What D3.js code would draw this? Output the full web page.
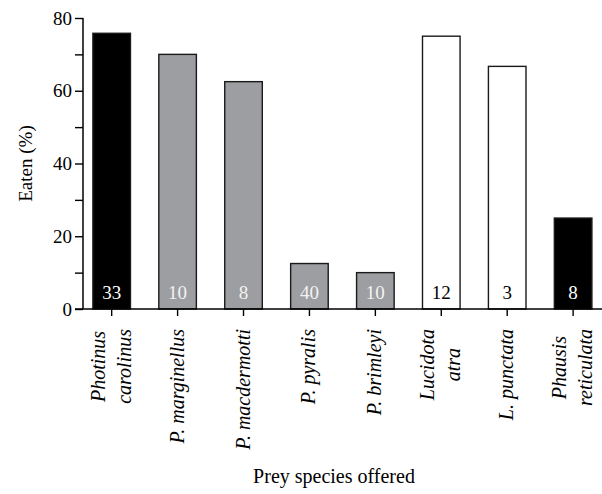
<!DOCTYPE html>
<html>
<head>
<meta charset="utf-8">
<script src="https://cdn.jsdelivr.net/npm/d3@7"></script>
<style>
  body { margin: 0; background: #fff; }
  svg text { font-family: "Liberation Serif", "DejaVu Serif", serif !important; }
</style>
</head>
<body>
<div id="chart"></div>
<script>
// prey species, split into label lines
const species = [
  ["Photinus", "carolinus"],
  ["P. marginellus"],
  ["P. macdermotti"],
  ["P. pyralis"],
  ["P. brimleyi"],
  ["Lucidota", "atra"],
  ["L. punctata"],
  ["Phausis", "reticulata"]
];
const eaten = [75.8, 70, 62.5, 12.5, 10, 75, 66.7, 25];   // % eaten
const offered = [33, 10, 8, 40, 10, 12, 3, 8];            // n offered
const group = ["black", "gray", "gray", "gray", "gray", "white", "white", "black"];
const yTicks = [0, 20, 40, 60, 80];

const width = 602, height = 494;
const margin = {top: 18, right: 0, bottom: 185, left: 83};
const y0 = height - margin.bottom;
const serif = "'Liberation Serif', 'DejaVu Serif', serif";

const fill = {black: "#000", gray: "#9d9ea1", white: "#fff"};
const numColor = {black: "#fff", gray: "#f2f2f2", white: "#000"};

const svg = d3.select("#chart").append("svg")
  .attr("width", width)
  .attr("height", height)
  .attr("font-family", serif);

const x = d3.scaleBand()
  .domain(d3.range(species.length))
  .range([margin.left, 601.8])
  .paddingInner(0.43)
  .paddingOuter(0.15);

const y = d3.scaleLinear()
  .domain([0, 80])
  .range([y0, margin.top]);

// bars
svg.selectAll(".bar")
  .data(eaten)
  .enter()
  .append("rect")
  .attr("class", "bar")
  .attr("x", (d, i) => x(i))
  .attr("y", d => y(d))
  .attr("width", x.bandwidth())
  .attr("height", d => y(0) - y(d))
  .attr("fill", (d, i) => fill[group[i]])
  .attr("stroke", "#1a1a1a")
  .attr("stroke-width", 1.4);

// n inside bars
svg.selectAll(".num")
  .data(offered)
  .enter()
  .append("text")
  .attr("class", "num")
  .attr("x", (d, i) => x(i) + x.bandwidth() / 2)
  .attr("y", y0 - 10)
  .attr("text-anchor", "middle")
  .attr("font-size", 19)
  .style("font-family", serif)
  .attr("fill", (d, i) => numColor[group[i]])
  .text(d => d);

// y axis
const yAxis = svg.append("g")
  .attr("transform", `translate(${margin.left},0)`)
  .call(d3.axisLeft(y).tickValues(d3.range(0, 81, 10)).tickSize(8).tickPadding(3)
    .tickFormat(d => yTicks.includes(d) ? d : ""));
yAxis.attr("font-family", serif);
yAxis.select(".domain").attr("d", `M0,${y(80)}H-0V${y0}`).attr("stroke-width", 1.5);
yAxis.selectAll(".tick line").attr("stroke-width", 1.4);
yAxis.selectAll("text").attr("font-size", 19).attr("fill", "#000").style("font-family", serif);

// x axis
const xAxis = svg.append("g")
  .attr("transform", `translate(0,${y0})`)
  .call(d3.axisBottom(x).tickSize(7).tickFormat(""));
xAxis.select(".domain").attr("d", `M75,0H602`).attr("stroke-width", 1.5);
xAxis.selectAll(".tick line").attr("stroke-width", 1.4);

// rotated species labels
const labelEnd = y0 + 20;
const lineGap = 26;
species.forEach((lines, i) => {
  const cx = x(i) + x.bandwidth() / 2;
  const g = svg.append("g")
    .attr("transform", `translate(${cx},${labelEnd}) rotate(-90)`);
  const texts = lines.map((line, k) => g.append("text")
    .attr("font-size", 20)
    .attr("font-style", "italic")
    .style("font-family", serif)
    .attr("y", (k - (lines.length - 1) / 2) * lineGap + 6)
    .text(line));
  if (lines.length === 1) {
    texts[0].attr("text-anchor", "end");
  } else {
    const maxLen = d3.max(texts, t => t.node().getComputedTextLength());
    texts.forEach(t => t.attr("text-anchor", "middle").attr("x", -maxLen / 2));
  }
});

// axis titles
svg.append("text")
  .attr("transform", `translate(32,${(margin.top + y0) / 2}) rotate(-90)`)
  .attr("text-anchor", "middle")
  .attr("font-size", 19)
  .style("font-family", serif)
  .text("Eaten (%)");

svg.append("text")
  .attr("x", 334)
  .attr("y", 483)
  .attr("text-anchor", "middle")
  .attr("font-size", 20)
  .style("font-family", serif)
  .text("Prey species offered");
</script>
</body>
</html>
